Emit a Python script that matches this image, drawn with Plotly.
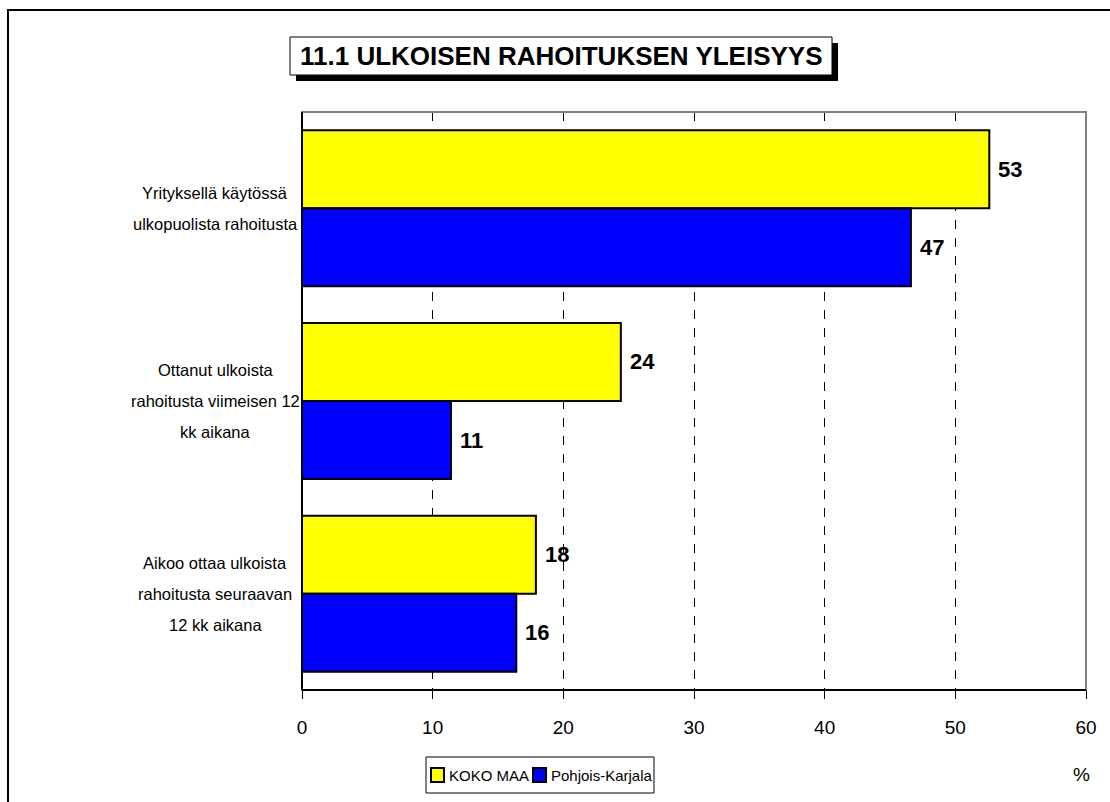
import plotly.graph_objects as go

categories = [
    "Yrityksellä käytössä<br>ulkopuolista rahoitusta",
    "Ottanut ulkoista<br>rahoitusta viimeisen 12<br>kk aikana",
    "Aikoo ottaa ulkoista<br>rahoitusta seuraavan<br>12 kk aikana",
]
koko_maa = [52.6, 24.4, 17.9]
pohjois_karjala = [46.6, 11.4, 16.4]
label_koko = ["53", "24", "18"]
label_pk = ["47", "11", "16"]
x_ticks = [0, 10, 20, 30, 40, 50, 60]
series_names = ["KOKO MAA", "Pohjois-Karjala"]
series_colors = ["#FFFF00", "#0000FF"]
title_text = "11.1 ULKOISEN RAHOITUKSEN YLEISYYS"

W, H = 1110, 802
L, R, T, B = 302, 1086, 112, 690
FONT = "Liberation Sans, Arial, sans-serif"


def px(x):
    return (x - L) / (R - L)


def py(y):
    return (B - y) / (B - T)


ypos = list(range(len(categories)))
bargap = 0.19
half = (1 - bargap) / 4

fig = go.Figure()
fig.add_trace(go.Bar(
    y=ypos, x=koko_maa, orientation="h", name=series_names[0],
    marker=dict(color=series_colors[0], line=dict(color="black", width=2)),
))
fig.add_trace(go.Bar(
    y=ypos, x=pohjois_karjala, orientation="h", name=series_names[1],
    marker=dict(color=series_colors[1], line=dict(color="black", width=2)),
))

annotations = []
LINE_H = 31
for i, cat in enumerate(categories):
    lines = cat.split("<br>")
    n = len(lines)
    for k, line in enumerate(lines):
        annotations.append(dict(
            x=px(215), xref="paper", y=i, yref="y", text=line, showarrow=False,
            xanchor="center", yanchor="middle", yshift=-(k - (n - 1) / 2) * LINE_H,
            font=dict(family=FONT, size=16.5, color="black"),
        ))
    annotations.append(dict(
        x=koko_maa[i], y=i - half, xref="x", yref="y", text="<b>%s</b>" % label_koko[i],
        showarrow=False, xanchor="left", yanchor="middle", xshift=7,
        font=dict(family=FONT, size=22, color="black"),
    ))
    annotations.append(dict(
        x=pohjois_karjala[i], y=i + half, xref="x", yref="y", text="<b>%s</b>" % label_pk[i],
        showarrow=False, xanchor="left", yanchor="middle", xshift=7,
        font=dict(family=FONT, size=22, color="black"),
    ))

annotations.append(dict(
    x=px(561), y=py(56), xref="paper", yref="paper", text="<b>%s</b>" % title_text,
    showarrow=False, xanchor="center", yanchor="middle",
    font=dict(family=FONT, size=26, color="black"),
))
annotations.append(dict(
    x=px(1081), y=py(774), xref="paper", yref="paper", text="%",
    showarrow=False, xanchor="center", yanchor="middle",
    font=dict(family=FONT, size=19, color="black"),
))

# manual legend (box, swatches, texts)
legend_x = [431, 533]
legend_text_x = [447, 549]
for j in range(2):
    annotations.append(dict(
        x=px(legend_text_x[j]), y=py(775), xref="paper", yref="paper", text=series_names[j],
        showarrow=False, xanchor="left", yanchor="middle",
        font=dict(family=FONT, size=15, color="black"),
    ))

shapes = [
    dict(type="rect", xref="paper", yref="paper", x0=px(8), x1=px(1120), y0=py(812), y1=py(10),
         line=dict(color="black", width=2), fillcolor="rgba(0,0,0,0)", layer="below"),
    dict(type="rect", xref="paper", yref="paper", x0=px(296), x1=px(838), y0=py(81), y1=py(43),
         line=dict(color="black", width=0), fillcolor="black", layer="above"),
    dict(type="rect", xref="paper", yref="paper", x0=px(290), x1=px(832), y0=py(75), y1=py(37),
         line=dict(color="black", width=1), fillcolor="white", layer="above"),
    dict(type="rect", xref="paper", yref="paper", x0=0, x1=1, y0=0, y1=1,
         line=dict(color="#808080", width=2), fillcolor="rgba(0,0,0,0)", layer="above"),
    dict(type="line", xref="paper", yref="paper", x0=0, x1=0, y0=0, y1=1,
         line=dict(color="black", width=2), layer="above"),
    dict(type="line", xref="paper", yref="paper", x0=0, x1=1, y0=0, y1=0,
         line=dict(color="black", width=2), layer="above"),
    dict(type="rect", xref="paper", yref="paper", x0=px(426), x1=px(654), y0=py(793), y1=py(757),
         line=dict(color="black", width=1), fillcolor="white", layer="above"),
]
for j in range(2):
    shapes.append(dict(
        type="rect", xref="paper", yref="paper",
        x0=px(legend_x[j]), x1=px(legend_x[j] + 13), y0=py(782), y1=py(768),
        line=dict(color="black", width=2), fillcolor=series_colors[j], layer="above",
    ))

fig.update_layout(
    width=W, height=H,
    margin=dict(l=L, r=W - R, t=T, b=H - B, pad=0),
    paper_bgcolor="white", plot_bgcolor="white",
    barmode="group", bargap=bargap, bargroupgap=0,
    font=dict(family=FONT, size=16, color="black"),
    showlegend=False,
    xaxis=dict(
        range=[0, 60], tickvals=x_ticks, ticktext=[str(v) for v in x_ticks],
        showgrid=True, gridcolor="black", griddash="dash", gridwidth=1,
        zeroline=False, showline=False, ticks="outside", ticklen=8,
        tickcolor="black", tickwidth=1, ticklabelstandoff=12,
        tickfont=dict(family=FONT, size=19, color="black"), fixedrange=True,
    ),
    yaxis=dict(
        range=[2.5, -0.5], showticklabels=False, showgrid=False, zeroline=False,
        showline=False, ticks="", fixedrange=True,
    ),
    annotations=annotations,
    shapes=shapes,
)

fig.write_html(
    "out.html",
    config={"displayModeBar": False, "staticPlot": True},
    post_script="document.body.style.margin='0';document.body.style.overflow='hidden';",
)
